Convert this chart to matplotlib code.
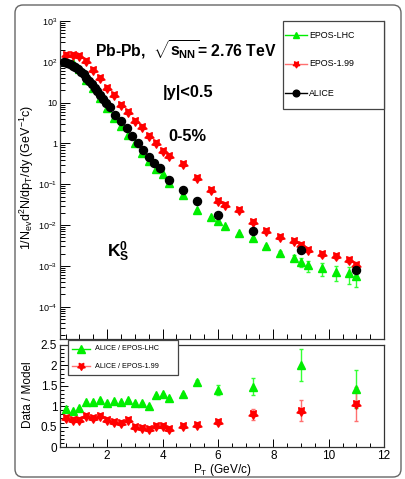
import numpy as np
import matplotlib
matplotlib.use("Agg")
import matplotlib.pyplot as plt
from matplotlib.lines import Line2D
from matplotlib.patches import FancyBboxPatch, Rectangle
from matplotlib.path import Path
from matplotlib.ticker import MultipleLocator, LogLocator, FuncFormatter, NullFormatter

plt.rcParams["font.family"] = ["Liberation Sans", "DejaVu Sans"]
plt.rcParams["mathtext.fontset"] = "custom"
plt.rcParams["mathtext.rm"] = "Liberation Sans"
plt.rcParams["mathtext.it"] = "Liberation Sans:italic"
plt.rcParams["mathtext.bf"] = "Liberation Sans:bold"
plt.rcParams["mathtext.default"] = "regular"

# ALICE K0S spectrum, 0-5%
alice_pt = [0.45, 0.55, 0.65, 0.75, 0.85, 0.95, 1.05, 1.15, 1.25, 1.35, 1.45, 1.55,
            1.65, 1.75, 1.85, 1.95, 2.1, 2.3, 2.5, 2.7, 2.9, 3.1, 3.3, 3.5, 3.7, 3.9,
            4.25, 4.75, 5.25, 6.0, 7.25, 9.0, 11.0]
alice_val = [100, 95, 89, 81, 74, 67, 58, 50, 41, 34, 28, 23,
             19, 15.5, 12.6, 10, 8.0, 5.1, 3.6, 2.35, 1.5, 1.05, 0.69, 0.47, 0.34, 0.25,
             0.13, 0.073, 0.039, 0.018, 0.007, 0.0025, 0.00081]

# model curves
model_pt = [0.5, 0.75, 1.0, 1.25, 1.5, 1.75, 2.0, 2.25, 2.5, 2.75, 3.0, 3.25, 3.5, 3.75,
            4.0, 4.25, 4.75, 5.25, 5.75, 6.0, 6.25, 6.75, 7.25, 7.75, 8.25, 8.75, 9.0,
            9.25, 9.75, 10.25, 10.75, 11.0]
lhc_val = [108, 94, 66, 36, 22.5, 12.8, 7.3, 4.3, 2.7, 1.65, 1.0, 0.6, 0.37, 0.24,
           0.18, 0.11, 0.054, 0.023, 0.0158, 0.0126, 0.0095, 0.0063, 0.0047, 0.0031, 0.0021,
           0.0016, 0.00122, 0.00103, 0.00088, 0.00069, 0.00066, 0.00056]
lhc_relerr = [0, 0, 0, 0, 0, 0, 0, 0, 0, 0, 0, 0, 0, 0, 0, 0, 0, 0, 0, 0, 0, 0, 0, 0.05,
              0.08, 0.15, 0.25, 0.3, 0.35, 0.4, 0.45, 0.45]
epos199_val = [151, 147, 142, 107, 65, 40, 23, 15, 9.0, 5.9, 3.6, 2.6, 1.5, 1.04,
               0.66, 0.49, 0.31, 0.14, 0.071, 0.038, 0.031, 0.023, 0.0117, 0.0071, 0.0051,
               0.0041, 0.0033, 0.0025, 0.0019, 0.0017, 0.0014, 0.00104]
epos199_relerr = [0, 0, 0, 0, 0, 0, 0, 0, 0, 0, 0, 0, 0, 0, 0, 0, 0, 0, 0, 0, 0, 0, 0.05,
                  0.06, 0.08, 0.08, 0.1, 0.1, 0.12, 0.12, 0.15, 0.2]

# ratios
ratio_pt = [0.5, 0.75, 1.0, 1.25, 1.5, 1.75, 2.0, 2.25, 2.5, 2.75, 3.0, 3.25, 3.5, 3.75,
            4.0, 4.25, 4.75, 5.25, 6.0, 7.25, 9.0, 11.0]
ratio_lhc = [0.92, 0.89, 0.95, 1.11, 1.10, 1.15, 1.09, 1.13, 1.11, 1.15, 1.09, 1.08, 1.01,
             1.27, 1.30, 1.19, 1.30, 1.60, 1.39, 1.48, 2.0, 1.42]
ratio_lhc_err = [0, 0, 0, 0, 0, 0, 0, 0, 0, 0, 0, 0, 0, 0, 0, 0, 0.03, 0.04, 0.12, 0.21,
                 0.39, 0.46]
ratio_199 = [0.71, 0.66, 0.67, 0.77, 0.70, 0.77, 0.65, 0.61, 0.58, 0.65, 0.50, 0.47, 0.43,
             0.51, 0.51, 0.43, 0.51, 0.54, 0.61, 0.80, 0.89, 1.05]
ratio_199_err = [0, 0, 0, 0, 0, 0, 0, 0, 0, 0, 0, 0, 0, 0, 0, 0, 0.02, 0.03, 0.05, 0.14,
                 0.26, 0.42]

ytick_text = {1e-4: "10$^{-4}$", 1e-3: "10$^{-3}$", 1e-2: "10$^{-2}$", 1e-1: "10$^{-1}$",
              1: "1", 10: "10", 100: "10$^{2}$", 1000: "10$^{3}$"}

GREEN = "#00ee00"
GREEN_E = "#33ff33"
RED = "#ff0000"
RED_E = "#ff7070"
W, H = 406, 479


def down_star(inner=0.55):
    ang_out = np.deg2rad(-90 + 72 * np.arange(5))
    ang_in = ang_out + np.deg2rad(36)
    pts = []
    for a, b in zip(ang_out, ang_in):
        pts.append((np.cos(a), np.sin(a)))
        pts.append((inner * np.cos(b), inner * np.sin(b)))
    pts.append(pts[0])
    codes = [Path.MOVETO] + [Path.LINETO] * (len(pts) - 2) + [Path.CLOSEPOLY]
    return Path(pts, codes)


STAR = down_star()


def fx(px):
    return px / W


def fy(py):
    return 1 - py / H


def legend_box(fig, x0, y0, x1, y1, entries, line_x, text_x, fontsize, ms):
    fig.add_artist(Rectangle((fx(x0), fy(y1)), fx(x1) - fx(x0), fy(y0) - fy(y1),
                             transform=fig.transFigure, fc="white", ec="#444444",
                             lw=0.9, zorder=10))
    for py, label, lcolor, marker, mcolor in entries:
        fig.add_artist(Line2D([fx(line_x[0]), fx(line_x[1])], [fy(py), fy(py)],
                              transform=fig.transFigure, color=lcolor, lw=1, zorder=11))
        fig.add_artist(Line2D([fx((line_x[0] + line_x[1]) / 2)], [fy(py)], ls="none",
                              marker=marker, ms=ms, color=mcolor, mec=mcolor,
                              transform=fig.transFigure, zorder=12))
        fig.text(fx(text_x), fy(py), label, fontsize=fontsize, ha="left", va="center",
                 zorder=12)


fig = plt.figure(figsize=(4.06, 4.79), dpi=100)
ax1 = fig.add_axes([0.148, 0.292, 0.798, 0.664])
ax2 = fig.add_axes([0.148, 0.0668, 0.798, 0.213])

# ---- top panel
lhc_pt = np.array(model_pt)
lhc = np.array(lhc_val)
ax1.errorbar(lhc_pt, lhc, yerr=lhc * np.array(lhc_relerr), fmt="^", color=GREEN,
             ecolor=GREEN_E, ms=5.8, mec=GREEN, elinewidth=1, capsize=1.5, zorder=3)
e199 = np.array(epos199_val)
ax1.errorbar(lhc_pt, e199, yerr=e199 * np.array(epos199_relerr), fmt="none",
             ecolor=RED_E, elinewidth=1, capsize=1.5, zorder=3)
ax1.plot(lhc_pt, e199, ls="none", marker=STAR, ms=6.8, color=RED, mec=RED, zorder=4)
ax1.plot(alice_pt, alice_val, ls="none", marker="o", ms=5.8, color="black", zorder=5)

ax1.set_yscale("log")
ax1.set_xlim(0.3, 12)
ax1.set_ylim(1.6e-5, 1e3)
ax1.xaxis.set_major_locator(MultipleLocator(2))
ax1.xaxis.set_minor_locator(MultipleLocator(0.5))
ax1.yaxis.set_major_locator(LogLocator(base=10, numticks=20))
ax1.yaxis.set_minor_locator(LogLocator(base=10, subs=np.arange(2, 10), numticks=20))
ax1.yaxis.set_major_formatter(FuncFormatter(lambda v, p: ytick_text.get(round(v, 6) if v < 1 else round(v), "")))
ax1.yaxis.set_minor_formatter(NullFormatter())
ax1.tick_params(which="both", direction="in", top=False, right=False, labelbottom=False,
                labelsize=6.5, pad=2, width=0.7)
ax1.tick_params(which="major", length=7)
ax1.tick_params(which="minor", length=3.5)
ax1.spines["top"].set_visible(False)
for s in ["left", "bottom", "right"]:
    ax1.spines[s].set_color("#333333")
    ax1.spines[s].set_linewidth(0.9)

legend_box(fig, 283, 21, 384, 109,
           [(35, "EPOS-LHC", GREEN, "^", GREEN),
            (64, "EPOS-1.99", RED_E, STAR, RED),
            (93, "ALICE", "black", "o", "black")],
           line_x=(285, 307), text_x=309, fontsize=6.4, ms=4.8)

fig.text(95 / W, 1 - 50 / H,
         r"Pb-Pb,  $\sqrt{\mathbf{s}_{\mathbf{NN}}}$= 2.76 TeV", fontsize=11.3,
         fontweight="bold", ha="left", va="center")
fig.text(188 / W, 1 - 93 / H, "|y|<0.5", fontsize=11.8, fontweight="bold",
         ha="center", va="center")
fig.text(187 / W, 1 - 137 / H, "0-5%", fontsize=11.8, fontweight="bold",
         ha="center", va="center")
fig.text(118 / W, 1 - 252 / H, r"$\mathbf{K}^{\mathbf{0}}_{\mathbf{S}}$",
         fontsize=12.5, ha="center", va="center")
fig.text(27 / W, 1 - 177 / H,
         r"1/N$_{ev}$d$^{2}$N/dp$_{T}$/dy (GeV$^{-1}$c)", rotation=90, fontsize=9,
         ha="center", va="center")

# ---- bottom panel
ax2.errorbar(ratio_pt, ratio_lhc, yerr=ratio_lhc_err, fmt="^", color=GREEN, ecolor=GREEN_E,
             ms=5.8, mec=GREEN, elinewidth=1, capsize=1.5, zorder=3)
ax2.errorbar(ratio_pt, ratio_199, yerr=ratio_199_err, fmt="none", ecolor=RED_E,
             elinewidth=1, capsize=1.5, zorder=3)
ax2.plot(ratio_pt, ratio_199, ls="none", marker=STAR, ms=6.8, color=RED, mec=RED, zorder=4)
ax2.set_xlim(0.3, 12)
ax2.set_ylim(0, 2.5)
ax2.xaxis.set_major_locator(MultipleLocator(2))
ax2.xaxis.set_minor_locator(MultipleLocator(0.5))
ax2.yaxis.set_major_locator(MultipleLocator(0.5))
ax2.yaxis.set_minor_locator(MultipleLocator(0.1))
ax2.yaxis.set_major_formatter(FuncFormatter(lambda v, p: "%g" % v))
ax2.tick_params(which="both", direction="in", top=False, right=False, labelsize=8.5,
                pad=2, width=0.7)
ax2.tick_params(which="major", length=6)
ax2.tick_params(which="minor", length=3)
for s in ax2.spines.values():
    s.set_color("#333333")
    s.set_linewidth(0.9)
ax2.set_xlabel("P$_{T}$ (GeV/c)", fontsize=8.5, labelpad=0)
fig.text(28 / W, 1 - 395 / H, "Data / Model", rotation=90, fontsize=8.5,
         ha="center", va="center")

legend_box(fig, 68, 340, 178, 375,
           [(349, "ALICE / EPOS-LHC", GREEN, "^", GREEN),
            (366, "ALICE / EPOS-1.99", RED_E, STAR, RED)],
           line_x=(72, 90), text_x=95, fontsize=5.2, ms=5.5)

# outer rounded frame
frame = FancyBboxPatch((0.15, 0.02), 3.86, 4.72, boxstyle="round,pad=0,rounding_size=0.08",
                       transform=fig.dpi_scale_trans, fill=False, ec="#666666", lw=1)
fig.patches.append(frame)

fig.savefig("out.png", dpi=100)
